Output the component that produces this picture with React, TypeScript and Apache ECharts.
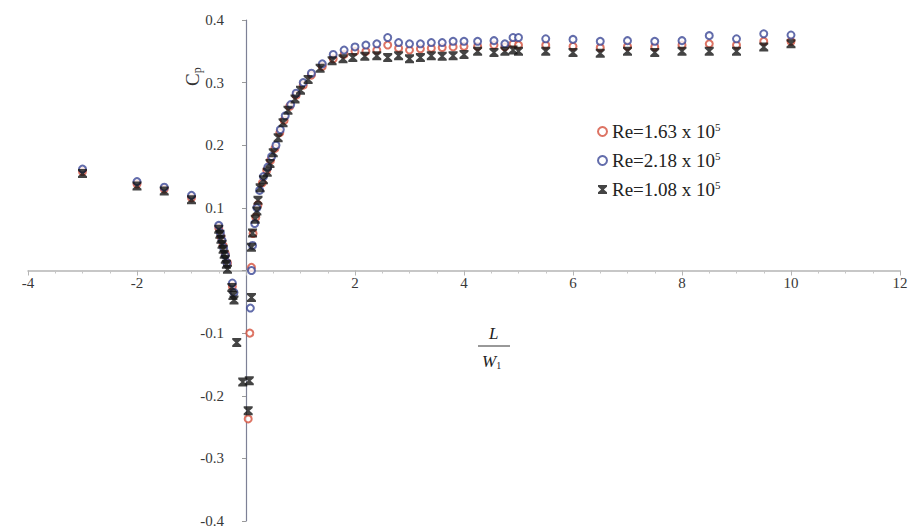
import React, { useEffect, useRef } from "react";
import * as echarts from "echarts";

// Pressure coefficient Cp against normalised length L/W1 for three Reynolds numbers
const re163: [number, number][] = [
  [-3, 0.158], [-2, 0.138], [-1.5, 0.13], [-1, 0.116], [-0.5, 0.068], [-0.46, 0.054],
  [-0.42, 0.04], [-0.38, 0.027], [-0.34, 0.012], [-0.25, -0.025], [0.04, -0.237],
  [0.07, -0.1], [0.1, 0.005], [0.13, 0.059], [0.18, 0.085], [0.22, 0.105], [0.3, 0.14],
  [0.38, 0.16], [0.45, 0.176], [0.53, 0.195], [0.62, 0.22], [0.7, 0.24], [0.8, 0.262],
  [0.92, 0.28], [1.05, 0.296], [1.2, 0.312], [1.4, 0.326], [1.6, 0.338], [1.8, 0.345],
  [2.0, 0.35], [2.2, 0.35], [2.4, 0.352], [2.6, 0.36], [2.8, 0.355], [3.0, 0.352],
  [3.2, 0.354], [3.4, 0.355], [3.6, 0.356], [3.8, 0.357], [4.0, 0.358], [4.25, 0.358],
  [4.55, 0.36], [4.75, 0.357], [4.9, 0.362], [5.0, 0.36], [5.5, 0.36], [6.0, 0.358],
  [6.5, 0.356], [7.0, 0.358], [7.5, 0.357], [8.0, 0.36], [8.5, 0.362], [9.0, 0.36],
  [9.5, 0.366], [10, 0.366],
];

const re218: [number, number][] = [
  [-3, 0.162], [-2, 0.142], [-1.5, 0.133], [-1, 0.12], [-0.5, 0.072], [-0.47, 0.06],
  [-0.44, 0.048], [-0.41, 0.036], [-0.38, 0.024], [-0.35, 0.012], [-0.25, -0.02],
  [-0.22, -0.035], [0.08, -0.06], [0.1, 0.0], [0.12, 0.04], [0.16, 0.075], [0.2, 0.1],
  [0.25, 0.128], [0.32, 0.15], [0.4, 0.165], [0.47, 0.182], [0.55, 0.2], [0.63, 0.225],
  [0.72, 0.247], [0.82, 0.265], [0.92, 0.283], [1.05, 0.3], [1.2, 0.315], [1.4, 0.33],
  [1.6, 0.345], [1.8, 0.352], [2.0, 0.357], [2.2, 0.36], [2.4, 0.362], [2.6, 0.372],
  [2.8, 0.364], [3.0, 0.362], [3.2, 0.362], [3.4, 0.364], [3.6, 0.364], [3.8, 0.366],
  [4.0, 0.366], [4.25, 0.366], [4.55, 0.367], [4.75, 0.362], [4.9, 0.372], [5.0, 0.372],
  [5.5, 0.37], [6.0, 0.369], [6.5, 0.366], [7.0, 0.367], [7.5, 0.366], [8.0, 0.367],
  [8.5, 0.375], [9.0, 0.37], [9.5, 0.378], [10, 0.376],
];

const re108: [number, number][] = [
  [-3, 0.155], [-2, 0.135], [-1.5, 0.127], [-1, 0.113], [-0.5, 0.066], [-0.48, 0.058],
  [-0.46, 0.05], [-0.44, 0.042], [-0.42, 0.034], [-0.4, 0.026], [-0.38, 0.018],
  [-0.36, 0.01], [-0.34, 0.002], [-0.26, -0.027], [-0.24, -0.04], [-0.22, -0.047],
  [-0.17, -0.115], [-0.06, -0.178], [0.06, -0.176], [0.04, -0.224], [0.1, -0.043],
  [0.1, 0.037], [0.12, 0.06], [0.17, 0.082], [0.2, 0.095], [0.22, 0.112], [0.26, 0.132],
  [0.32, 0.145], [0.39, 0.157], [0.44, 0.171], [0.5, 0.188], [0.59, 0.212], [0.68, 0.236],
  [0.77, 0.256], [0.9, 0.274], [1.0, 0.288], [1.14, 0.305], [1.36, 0.323], [1.58, 0.335],
  [1.78, 0.338], [1.96, 0.34], [2.18, 0.342], [2.4, 0.343], [2.6, 0.34], [2.8, 0.343],
  [3.0, 0.338], [3.2, 0.34], [3.4, 0.343], [3.6, 0.342], [3.8, 0.343], [4.0, 0.345],
  [4.25, 0.35], [4.55, 0.348], [4.75, 0.35], [4.9, 0.352], [5.0, 0.35], [5.5, 0.35],
  [6.0, 0.348], [6.5, 0.347], [7.0, 0.35], [7.5, 0.348], [8.0, 0.35], [8.5, 0.35],
  [9.0, 0.35], [9.5, 0.357], [10, 0.362],
];

const seriesNames = ["Re=1.63 x 10", "Re=2.18 x 10", "Re=1.08 x 10"];
const exponent = "5";

const X_MIN = -4;
const X_MAX = 12;
const Y_MIN = -0.4;
const Y_MAX = 0.4;

const W = 920;
const H = 531;
const GRID = { left: 28, right: 20, top: 20, bottom: 10 };

const SERIF = "'Liberation Serif', 'DejaVu Serif', serif";
const hourglass = "path://M0,0H10V2L6.5,5L10,8V10H0V8L3.5,5L0,2Z";

export default function App() {
  const ref = useRef<HTMLDivElement>(null);

  useEffect(() => {
    if (!ref.current) return;
    const chart = echarts.init(ref.current, null, { renderer: "svg" });
    const hideZero = (v: number) => (Math.abs(v) < 1e-9 ? "" : String(Math.round(v * 10) / 10));

    // Both axes cross at the origin: shift them inward from the grid edges
    const gridW = W - GRID.left - GRID.right;
    const gridH = H - GRID.top - GRID.bottom;
    const yAxisShift = ((0 - X_MIN) / (X_MAX - X_MIN)) * gridW;
    const xAxisShift = ((0 - Y_MIN) / (Y_MAX - Y_MIN)) * gridH;

    chart.setOption({
      animation: false,
      backgroundColor: "#ffffff",
      grid: { ...GRID, containLabel: false, outerBoundsMode: "none" },
      xAxis: {
        type: "value",
        position: "bottom",
        offset: -xAxisShift,
        min: X_MIN,
        max: X_MAX,
        interval: 2,
        axisLine: { onZero: false, lineStyle: { color: "#b5b5b5", width: 1.5 } },
        axisTick: { show: true, length: 5, lineStyle: { color: "#b5b5b5" } },
        minorTick: { show: true, splitNumber: 4, length: 3, lineStyle: { color: "#c5c5c5" } },
        splitLine: { show: false },
        axisLabel: {
          formatter: (v: number) => hideZero(v),
          color: "#383838",
          fontFamily: SERIF,
          fontSize: 15,
          margin: 5,
        },
      },
      yAxis: {
        type: "value",
        position: "left",
        offset: -yAxisShift,
        min: Y_MIN,
        max: Y_MAX,
        interval: 0.1,
        axisLine: { onZero: false, lineStyle: { color: "#7d8196", width: 1.2 } },
        axisTick: { show: true, length: 4, lineStyle: { color: "#9a9a9a" } },
        splitLine: { show: false },
        axisLabel: {
          formatter: (v: number) => hideZero(v),
          color: "#383838",
          fontFamily: SERIF,
          fontSize: 15,
          margin: 22,
        },
      },
      legend: {
        orient: "vertical",
        left: 592,
        top: 116,
        itemGap: 9,
        itemWidth: 9,
        itemHeight: 9,
        data: [
          { name: seriesNames[0], icon: "emptyCircle" },
          { name: seriesNames[1], icon: "emptyCircle" },
          { name: seriesNames[2], icon: hourglass },
        ],
        formatter: (name: string) => `{b|${name}}{s|${exponent}}`,
        textStyle: {
          fontFamily: SERIF,
          color: "#222",
          rich: {
            b: { fontFamily: SERIF, fontSize: 19, color: "#222" },
            s: { fontFamily: SERIF, fontSize: 11, color: "#222", verticalAlign: "top", padding: [0, 0, 10, 0] },
          },
        },
      },
      graphic: [
        {
          type: "text",
          x: 181,
          y: 86,
          rotation: Math.PI / 2,
          style: {
            text: "{c|C}{p|p}",
            fill: "#333",
            rich: {
              c: { fontFamily: SERIF, fontSize: 19, fill: "#333" },
              p: { fontFamily: SERIF, fontSize: 12, fill: "#333", padding: [10, 0, 0, 0] },
            },
          },
        },
        {
          type: "text",
          x: 489,
          y: 325,
          style: { text: "L", font: `italic 17px ${SERIF}`, fill: "#222" },
        },
        {
          type: "line",
          shape: { x1: 478, y1: 346, x2: 510, y2: 346 },
          style: { stroke: "#333", lineWidth: 1 },
        },
        {
          type: "text",
          x: 482,
          y: 352,
          style: {
            text: "{w|W}{o|1}",
            rich: {
              w: { fontFamily: SERIF, fontStyle: "italic", fontSize: 17, fill: "#222" },
              o: { fontFamily: SERIF, fontSize: 10, fill: "#222", padding: [8, 0, 0, 0] },
            },
          },
        },
      ],
      series: [
        {
          name: seriesNames[0],
          type: "scatter",
          data: re163,
          symbol: "emptyCircle",
          symbolSize: 7,
          itemStyle: { color: "#d4503c", borderWidth: 1.3 },
          z: 2,
        },
        {
          name: seriesNames[1],
          type: "scatter",
          data: re218,
          symbol: "emptyCircle",
          symbolSize: 7,
          itemStyle: { color: "#3b4796", borderWidth: 1.3 },
          z: 3,
        },
        {
          name: seriesNames[2],
          type: "scatter",
          data: re108,
          symbol: hourglass,
          symbolSize: 9,
          itemStyle: { color: "#151515" },
          z: 4,
        },
      ],
    });

    return () => chart.dispose();
  }, []);

  return (
    <div
      ref={ref}
      style={{ position: "fixed", left: 0, top: 0, width: W, height: H, background: "#fff" }}
    />
  );
}
